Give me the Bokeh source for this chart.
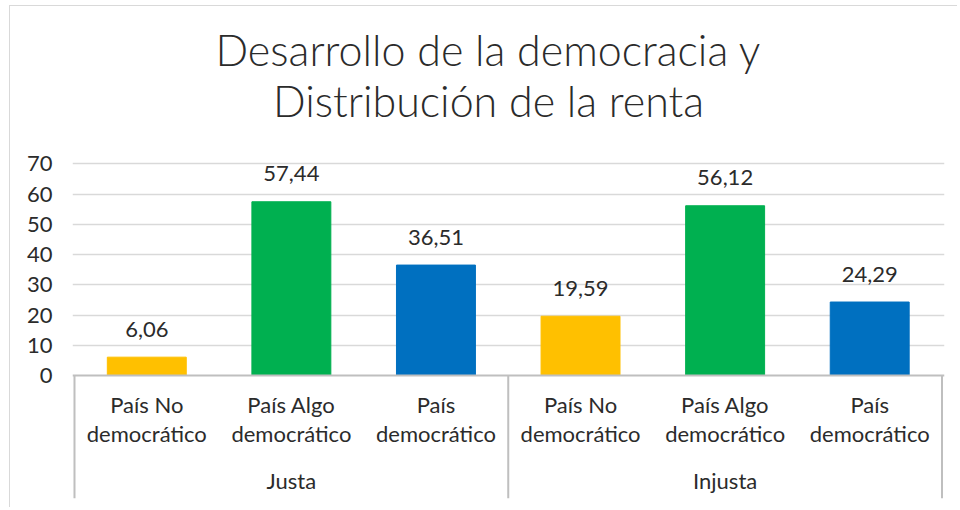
from bokeh.plotting import figure
from bokeh.models import Range1d, FixedTicker, Span, Label, ColumnDataSource
from bokeh.core.properties import value
from bokeh.embed import file_html
from bokeh.resources import INLINE

# ---- data ----
groups = ["Justa", "Injusta"]
categories = ["País No\ndemocrático", "País Algo\ndemocrático", "País\ndemocrático"]
justa_values = [6.06, 57.44, 36.51]
injusta_values = [19.59, 56.12, 24.29]
bar_colors = ["#FFC000", "#00B050", "#0070C0"]
y_ticks = [0, 10, 20, 30, 40, 50, 60, 70]
title_lines = ["Desarrollo de la democracia y", "Distribución de la renta"]

FONT = "Lato"
TFONT = "Lato Light"
TXT = "#2b2b2b"

values = justa_values + injusta_values
ncat = len(categories)
xs = [i + 0.5 for i in range(len(values))]
labels = [f"{v:.2f}".replace(".", ",") for v in values]
cat_labels = categories * len(groups)
colors = bar_colors * len(groups)

src = ColumnDataSource(dict(x=xs, top=values, label=labels, cat=cat_labels, color=colors))

# frame spans the whole chart area; grid and ticks are limited to 0..70
p = figure(width=948, height=502, output_backend="svg", toolbar_location=None,
           x_range=Range1d(-0.0138, len(values) + 0.0173),
           y_range=Range1d(-40.67, 122.0),
           min_border_left=62, min_border_right=14, min_border_top=0, min_border_bottom=10)
p.styles = {"border-left": "1px solid #d9d9d9", "border-top": "1px solid #d9d9d9",
            "margin-left": "9px", "margin-top": "5px"}
p.outline_line_color = None
p.background_fill_color = "white"
p.border_fill_color = "white"
p.title = None

# title, two centred lines (screen units relative to the plot frame)
for line, ty in zip(title_lines, [449, 398]):
    p.add_layout(Label(x=416, y=ty, x_units="screen", y_units="screen", text=line,
                       text_align="center", text_baseline="alphabetic",
                       text_font=TFONT, text_font_size="43px", text_color=TXT))

p.xaxis.visible = False
p.xgrid.visible = False
p.yaxis.ticker = FixedTicker(ticks=y_ticks)
p.yaxis.axis_line_color = None
p.yaxis.major_tick_line_color = None
p.yaxis.minor_tick_line_color = None
p.yaxis.major_label_standoff = 14
p.yaxis.major_label_text_font = FONT
p.yaxis.major_label_text_font_size = "22px"
p.yaxis.major_label_text_color = TXT
p.ygrid.ticker = FixedTicker(ticks=y_ticks[1:])
p.ygrid.grid_line_color = "#d9d9d9"
p.ygrid.grid_line_width = 1.5

p.vbar(x="x", top="top", bottom=0, width=0.546, color="color", source=src)

# baseline and category box
p.add_layout(Span(location=0, dimension="width", line_color="#bfbfbf", line_width=2))
bounds = [g * ncat for g in range(len(groups) + 1)]
p.segment(x0=bounds, x1=bounds, y0=[0] * len(bounds), y1=[-40.67] * len(bounds),
          line_color="#bfbfbf", line_width=2)

# value labels
p.text(x="x", y="top", text="label", source=src, text_align="center",
       text_baseline="alphabetic", y_offset=-28, text_font=value(FONT),
       text_font_size="22px", text_color=TXT)

# category labels
p.text(x="x", y=0, text="cat", source=src, text_align="center", text_baseline="top",
       y_offset=16, text_font=value(FONT), text_font_size="22px", text_color=TXT,
       text_line_height=1.07)

# group labels
gx = [g * ncat + ncat / 2 for g in range(len(groups))]
p.text(x=gx, y=[0] * len(groups), text=groups, text_align="center",
       text_baseline="alphabetic", y_offset=105, text_font=value(FONT),
       text_font_size="22px", text_color=TXT)

open("out.html", "w").write(file_html(p, INLINE))
